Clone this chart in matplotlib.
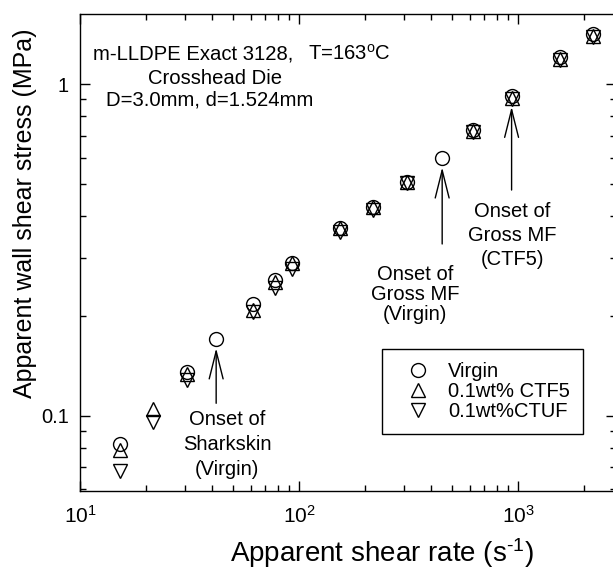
import math
import matplotlib
matplotlib.use('Agg')
import matplotlib.pyplot as plt
from matplotlib.ticker import LogLocator, NullFormatter, FuncFormatter, FixedLocator

plt.rcParams['font.family'] = ['Liberation Sans', 'DejaVu Sans']
plt.rcParams['mathtext.fontset'] = 'custom'
plt.rcParams['mathtext.rm'] = 'Liberation Sans'
plt.rcParams['mathtext.it'] = 'Liberation Sans:italic'
plt.rcParams['mathtext.bf'] = 'Liberation Sans:bold'
plt.rcParams['mathtext.default'] = 'regular'

# ---------------- data ----------------
virgin_rate = [15.3, 30.9, 41.8, 61.8, 77.6, 93.1, 153.8, 216, 309, 449, 618, 931, 1545, 2178]
virgin_stress = [0.0821, 0.1358, 0.170, 0.2173, 0.2567, 0.2884, 0.3678, 0.4254, 0.506, 0.598, 0.730, 0.920, 1.205, 1.415]

ctf5_rate = [15.3, 21.6, 30.9, 61.8, 77.6, 93.1, 153.8, 216, 309, 618, 931, 1545, 2178]
ctf5_stress = [0.0788, 0.1047, 0.1337, 0.2084, 0.2535, 0.289, 0.369, 0.425, 0.506, 0.723, 0.911, 1.192, 1.402]

ctuf_rate = [15.3, 21.6, 30.9, 61.8, 77.6, 93.1, 153.8, 216, 309, 618, 931, 1545, 2178]
ctuf_stress = [0.0682, 0.0957, 0.128, 0.2056, 0.2423, 0.2765, 0.359, 0.4175, 0.5025, 0.72, 0.905, 1.185, 1.39]

series_labels = ['Virgin', '0.1wt% CTF5', '0.1wt%CTUF']

# arrows marking onsets: (x, tip stress, tail stress)
arrow_x = [41.8, 449, 931]
arrow_tip = [0.1598, 0.5616, 0.8558]
arrow_tail = [0.109, 0.3297, 0.4797]

x_major_ticks = [10, 100, 1000]
y_major_ticks = [0.1, 1]

# ---------------- figure ----------------
W, H = 613, 572
fig = plt.figure(figsize=(W / 100, H / 100), dpi=100)

def fx(px):
    return px / W

def fy(py):
    return 1 - py / H

ax = fig.add_axes([fx(80), fy(491), 536 / W, 477 / H])
ax.set_xscale('log')
ax.set_yscale('log')
ax.set_xlim(10, 10 ** (1 + 536 / 219.2))
ax.set_ylim(10 ** (-1 - 75.3 / 331.4), 10 ** (70.3 / 331.4))

mk = dict(linestyle='none', fillstyle='none', color='black', markeredgewidth=1.0)
ax.plot(virgin_rate, virgin_stress, marker='o', markersize=10, label=series_labels[0], **mk)
ax.plot(ctf5_rate, ctf5_stress, marker='^', markersize=10.5, label=series_labels[1], **mk)
ax.plot(ctuf_rate, ctuf_stress, marker='v', markersize=10.5, label=series_labels[2], **mk)

for x, tip, tail in zip(arrow_x, arrow_tip, arrow_tail):
    ax.annotate('', xy=(x, tip), xytext=(x, tail),
                arrowprops=dict(arrowstyle='->,head_length=2.0,head_width=0.5',
                                lw=1.0, color='black', shrinkA=0, shrinkB=0,
                                mutation_scale=10))

# ticks
ax.xaxis.set_major_locator(FixedLocator(x_major_ticks))
ax.xaxis.set_minor_locator(LogLocator(base=10, subs=range(2, 10), numticks=20))
ax.xaxis.set_minor_formatter(NullFormatter())
ax.xaxis.set_major_formatter(FuncFormatter(lambda v, p: r'$10^{%d}$' % round(math.log10(v))))
ax.yaxis.set_major_locator(FixedLocator(y_major_ticks))
ax.yaxis.set_minor_locator(LogLocator(base=10, subs=range(2, 10), numticks=20))
ax.yaxis.set_minor_formatter(NullFormatter())
ax.yaxis.set_major_formatter(FuncFormatter(lambda v, p: '%g' % v))

ax.tick_params(which='both', direction='in', top=True, right=True, width=1.0)
ax.tick_params(which='major', length=7.5)
ax.tick_params(which='minor', length=4.3)
ax.tick_params(axis='x', which='major', pad=10, labelsize=15)
ax.tick_params(axis='y', which='major', pad=8, labelsize=14.5)
for s in ax.spines.values():
    s.set_linewidth(1.0)

# axis labels
fig.text(fx(25), fy(213), 'Apparent wall shear stress (MPa)', rotation=90,
         ha='center', va='center', fontsize=18)
fig.text(fx(382), fy(553), r'Apparent shear rate (s$^{\text{-}1}$)',
         ha='center', va='center', fontsize=20)

# header text
fig.text(fx(93), fy(60), 'm-LLDPE Exact 3128,', ha='left', va='baseline', fontsize=14.6)
fig.text(fx(308), fy(60), r'T=163$^{\rm o}$C', ha='left', va='baseline', fontsize=14.6)
fig.text(fx(215), fy(84), 'Crosshead Die', ha='center', va='baseline', fontsize=14.6)
fig.text(fx(210), fy(105), 'D=3.0mm, d=1.524mm', ha='center', va='baseline', fontsize=14.6)

# onset labels
for i, t in enumerate(['Onset of', 'Sharkskin', '(Virgin)']):
    fig.text(fx(227), fy(425 + 25 * i), t, ha='center', va='baseline', fontsize=14.5)
for i, t in enumerate(['Onset of', 'Gross MF', '(Virgin)']):
    fig.text(fx(415), fy(280 + 20 * i), t, ha='center', va='baseline', fontsize=14.5)
for i, t in enumerate(['Onset of', 'Gross MF', '(CTF5)']):
    fig.text(fx(512), fy(216.7 + 24 * i), t, ha='center', va='baseline', fontsize=14.5)

leg = fig.legend(loc='upper left', bbox_to_anchor=(fx(381.7), fy(349.3)), borderaxespad=0,
                 fontsize=14.5, frameon=True, fancybox=False, edgecolor='black',
                 framealpha=1, borderpad=0.65, handlelength=2.3, handletextpad=0.35,
                 labelspacing=0.05, numpoints=1)
leg.get_frame().set_linewidth(1.0)

fig.savefig('out.png', dpi=100)
